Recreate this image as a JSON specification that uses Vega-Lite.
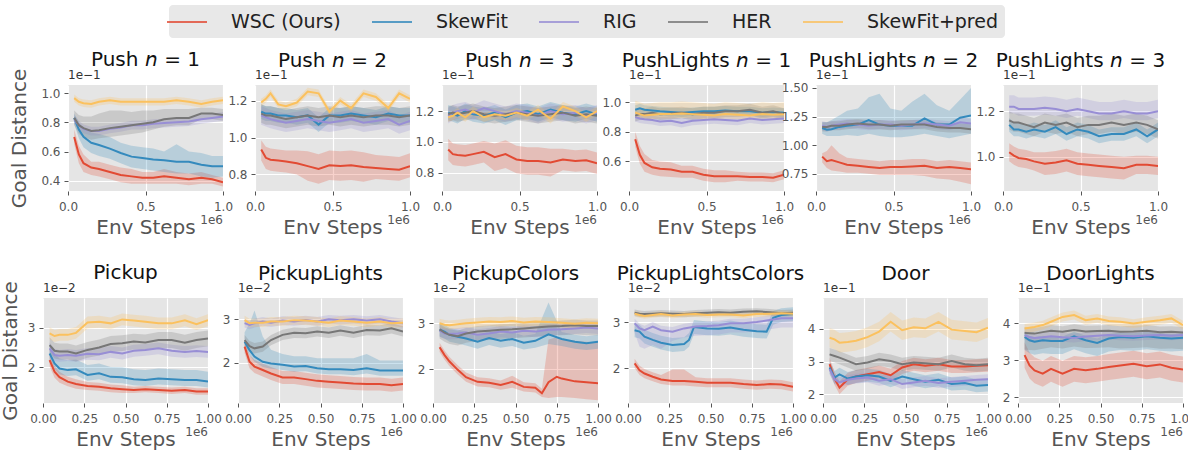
{
"$schema": "https://vega.github.io/schema/vega-lite/v6.json",
"padding": {"left": 0, "top": 5, "right": 5, "bottom": 5},
"background": "white",
"spacing": 25,
"config": {
 "font": "DejaVu Sans",
 "view": {"fill": "#E5E5E5", "stroke": null},
 "range": {"category": ["#E24A33", "#348ABD", "#988ED5", "#777777", "#FBC15E"]},
 "axis": {"domain": false, "grid": true, "gridColor": "#FFFFFF", "gridWidth": 1.2, "tickColor": "#555555", "tickSize": 4, "labelColor": "#555555", "labelFontSize": 12, "labelPadding": 4, "labelFlush": false, "labelOverlap": false, "titleColor": "#555555", "titleFontSize": 20, "titleFontWeight": "normal"},
 "axisX": {"titlePadding": 5, "labelPadding": 6},
 "title": {"fontSize": 20, "fontWeight": "normal", "color": "#111111", "anchor": "middle", "offset": -2}
},
"datasets": {
"p1": [
{"s":"A","x":0.04,"y":0.7,"l":0.65,"h":0.75},{"s":"A","x":0.07,"y":0.58,"l":0.52,"h":0.64},{"s":"A","x":0.1,"y":0.52,"l":0.46,"h":0.58},{"s":"A","x":0.15,"y":0.49,"l":0.44,"h":0.53},{"s":"A","x":0.2,"y":0.48,"l":0.43,"h":0.53},{"s":"A","x":0.27,"y":0.46,"l":0.41,"h":0.51},{"s":"A","x":0.34,"y":0.44,"l":0.39,"h":0.49},{"s":"A","x":0.41,"y":0.43,"l":0.38,"h":0.48},{"s":"A","x":0.48,"y":0.42,"l":0.38,"h":0.46},{"s":"A","x":0.55,"y":0.42,"l":0.38,"h":0.46},{"s":"A","x":0.62,"y":0.43,"l":0.38,"h":0.48},{"s":"A","x":0.7,"y":0.42,"l":0.38,"h":0.46},{"s":"A","x":0.78,"y":0.41,"l":0.37,"h":0.45},{"s":"A","x":0.86,"y":0.42,"l":0.38,"h":0.46},{"s":"A","x":0.93,"y":0.41,"l":0.38,"h":0.44},{"s":"A","x":1,"y":0.39,"l":0.36,"h":0.42},
{"s":"B","x":0.04,"y":0.83,"l":0.79,"h":0.86},{"s":"B","x":0.07,"y":0.75,"l":0.69,"h":0.8},{"s":"B","x":0.1,"y":0.7,"l":0.63,"h":0.76},{"s":"B","x":0.15,"y":0.66,"l":0.59,"h":0.73},{"s":"B","x":0.2,"y":0.645,"l":0.57,"h":0.72},{"s":"B","x":0.27,"y":0.62,"l":0.55,"h":0.7},{"s":"B","x":0.34,"y":0.59,"l":0.52,"h":0.66},{"s":"B","x":0.41,"y":0.565,"l":0.49,"h":0.64},{"s":"B","x":0.48,"y":0.555,"l":0.48,"h":0.63},{"s":"B","x":0.55,"y":0.545,"l":0.47,"h":0.62},{"s":"B","x":0.62,"y":0.54,"l":0.46,"h":0.6},{"s":"B","x":0.7,"y":0.53,"l":0.45,"h":0.65},{"s":"B","x":0.78,"y":0.53,"l":0.45,"h":0.6},{"s":"B","x":0.86,"y":0.51,"l":0.43,"h":0.59},{"s":"B","x":0.93,"y":0.5,"l":0.42,"h":0.57},{"s":"B","x":1,"y":0.5,"l":0.43,"h":0.57},
{"s":"C","x":0.04,"y":0.82,"l":0.79,"h":0.85},{"s":"C","x":0.07,"y":0.78,"l":0.75,"h":0.81},{"s":"C","x":0.1,"y":0.755,"l":0.725,"h":0.785},{"s":"C","x":0.15,"y":0.74,"l":0.71,"h":0.77},{"s":"C","x":0.2,"y":0.74,"l":0.71,"h":0.77},{"s":"C","x":0.27,"y":0.755,"l":0.725,"h":0.785},{"s":"C","x":0.34,"y":0.765,"l":0.735,"h":0.795},{"s":"C","x":0.41,"y":0.78,"l":0.75,"h":0.81},{"s":"C","x":0.48,"y":0.78,"l":0.75,"h":0.81},{"s":"C","x":0.55,"y":0.79,"l":0.76,"h":0.82},{"s":"C","x":0.62,"y":0.795,"l":0.765,"h":0.825},{"s":"C","x":0.7,"y":0.8,"l":0.77,"h":0.83},{"s":"C","x":0.78,"y":0.805,"l":0.775,"h":0.835},{"s":"C","x":0.86,"y":0.82,"l":0.79,"h":0.85},{"s":"C","x":0.93,"y":0.83,"l":0.8,"h":0.86},{"s":"C","x":1,"y":0.84,"l":0.81,"h":0.87},
{"s":"D","x":0.04,"y":0.83,"l":0.78,"h":0.88},{"s":"D","x":0.07,"y":0.78,"l":0.72,"h":0.85},{"s":"D","x":0.1,"y":0.76,"l":0.7,"h":0.84},{"s":"D","x":0.15,"y":0.74,"l":0.68,"h":0.84},{"s":"D","x":0.2,"y":0.745,"l":0.69,"h":0.86},{"s":"D","x":0.27,"y":0.76,"l":0.7,"h":0.88},{"s":"D","x":0.34,"y":0.77,"l":0.71,"h":0.88},{"s":"D","x":0.41,"y":0.78,"l":0.72,"h":0.87},{"s":"D","x":0.48,"y":0.79,"l":0.73,"h":0.88},{"s":"D","x":0.55,"y":0.8,"l":0.75,"h":0.88},{"s":"D","x":0.62,"y":0.82,"l":0.77,"h":0.89},{"s":"D","x":0.7,"y":0.83,"l":0.78,"h":0.89},{"s":"D","x":0.78,"y":0.83,"l":0.78,"h":0.89},{"s":"D","x":0.86,"y":0.86,"l":0.82,"h":0.9},{"s":"D","x":0.93,"y":0.86,"l":0.82,"h":0.9},{"s":"D","x":1,"y":0.85,"l":0.81,"h":0.89},
{"s":"E","x":0.04,"y":0.965,"l":0.94,"h":0.99},{"s":"E","x":0.07,"y":0.94,"l":0.915,"h":0.965},{"s":"E","x":0.1,"y":0.93,"l":0.905,"h":0.955},{"s":"E","x":0.15,"y":0.925,"l":0.9,"h":0.95},{"s":"E","x":0.2,"y":0.94,"l":0.915,"h":0.965},{"s":"E","x":0.27,"y":0.95,"l":0.925,"h":0.975},{"s":"E","x":0.34,"y":0.94,"l":0.915,"h":0.965},{"s":"E","x":0.41,"y":0.94,"l":0.915,"h":0.965},{"s":"E","x":0.48,"y":0.94,"l":0.915,"h":0.965},{"s":"E","x":0.55,"y":0.94,"l":0.915,"h":0.965},{"s":"E","x":0.62,"y":0.94,"l":0.915,"h":0.965},{"s":"E","x":0.7,"y":0.95,"l":0.925,"h":0.975},{"s":"E","x":0.78,"y":0.94,"l":0.915,"h":0.965},{"s":"E","x":0.86,"y":0.925,"l":0.9,"h":0.95},{"s":"E","x":0.93,"y":0.94,"l":0.915,"h":0.965},{"s":"E","x":1,"y":0.95,"l":0.925,"h":0.975}
],
"p2": [
{"s":"A","x":0.04,"y":0.935,"l":0.875,"h":0.985},{"s":"A","x":0.07,"y":0.89,"l":0.83,"h":0.95},{"s":"A","x":0.1,"y":0.88,"l":0.82,"h":0.94},{"s":"A","x":0.15,"y":0.875,"l":0.815,"h":0.935},{"s":"A","x":0.2,"y":0.87,"l":0.81,"h":0.93},{"s":"A","x":0.27,"y":0.86,"l":0.8,"h":0.93},{"s":"A","x":0.34,"y":0.845,"l":0.765,"h":0.925},{"s":"A","x":0.41,"y":0.83,"l":0.75,"h":0.91},{"s":"A","x":0.48,"y":0.85,"l":0.77,"h":0.93},{"s":"A","x":0.55,"y":0.845,"l":0.765,"h":0.925},{"s":"A","x":0.62,"y":0.85,"l":0.77,"h":0.93},{"s":"A","x":0.7,"y":0.84,"l":0.76,"h":0.92},{"s":"A","x":0.78,"y":0.835,"l":0.775,"h":0.905},{"s":"A","x":0.86,"y":0.83,"l":0.77,"h":0.9},{"s":"A","x":0.93,"y":0.825,"l":0.765,"h":0.895},{"s":"A","x":1,"y":0.845,"l":0.785,"h":0.915},
{"s":"B","x":0.04,"y":1.14,"l":1.1,"h":1.18},{"s":"B","x":0.07,"y":1.13,"l":1.09,"h":1.17},{"s":"B","x":0.1,"y":1.13,"l":1.09,"h":1.17},{"s":"B","x":0.15,"y":1.12,"l":1.08,"h":1.16},{"s":"B","x":0.2,"y":1.12,"l":1.08,"h":1.16},{"s":"B","x":0.27,"y":1.11,"l":1.07,"h":1.15},{"s":"B","x":0.34,"y":1.12,"l":1.08,"h":1.16},{"s":"B","x":0.41,"y":1.07,"l":1.03,"h":1.11},{"s":"B","x":0.48,"y":1.12,"l":1.08,"h":1.16},{"s":"B","x":0.55,"y":1.12,"l":1.08,"h":1.16},{"s":"B","x":0.62,"y":1.13,"l":1.09,"h":1.17},{"s":"B","x":0.7,"y":1.12,"l":1.08,"h":1.16},{"s":"B","x":0.78,"y":1.11,"l":1.07,"h":1.15},{"s":"B","x":0.86,"y":1.13,"l":1.09,"h":1.17},{"s":"B","x":0.93,"y":1.12,"l":1.08,"h":1.16},{"s":"B","x":1,"y":1.12,"l":1.08,"h":1.16},
{"s":"C","x":0.04,"y":1.12,"l":1.07,"h":1.17},{"s":"C","x":0.07,"y":1.11,"l":1.06,"h":1.16},{"s":"C","x":0.1,"y":1.1,"l":1.05,"h":1.15},{"s":"C","x":0.15,"y":1.09,"l":1.04,"h":1.14},{"s":"C","x":0.2,"y":1.08,"l":1.03,"h":1.13},{"s":"C","x":0.27,"y":1.09,"l":1.04,"h":1.14},{"s":"C","x":0.34,"y":1.1,"l":1.05,"h":1.15},{"s":"C","x":0.41,"y":1.09,"l":1.04,"h":1.14},{"s":"C","x":0.48,"y":1.08,"l":1.03,"h":1.13},{"s":"C","x":0.55,"y":1.09,"l":1.04,"h":1.14},{"s":"C","x":0.62,"y":1.1,"l":1.05,"h":1.15},{"s":"C","x":0.7,"y":1.08,"l":1.03,"h":1.13},{"s":"C","x":0.78,"y":1.09,"l":1.04,"h":1.14},{"s":"C","x":0.86,"y":1.1,"l":1.05,"h":1.15},{"s":"C","x":0.93,"y":1.07,"l":1.02,"h":1.12},{"s":"C","x":1,"y":1.09,"l":1.04,"h":1.14},
{"s":"D","x":0.04,"y":1.13,"l":1.08,"h":1.18},{"s":"D","x":0.07,"y":1.12,"l":1.07,"h":1.17},{"s":"D","x":0.1,"y":1.12,"l":1.07,"h":1.17},{"s":"D","x":0.15,"y":1.11,"l":1.06,"h":1.16},{"s":"D","x":0.2,"y":1.1,"l":1.05,"h":1.15},{"s":"D","x":0.27,"y":1.11,"l":1.06,"h":1.16},{"s":"D","x":0.34,"y":1.12,"l":1.07,"h":1.17},{"s":"D","x":0.41,"y":1.11,"l":1.06,"h":1.16},{"s":"D","x":0.48,"y":1.12,"l":1.07,"h":1.17},{"s":"D","x":0.55,"y":1.11,"l":1.06,"h":1.16},{"s":"D","x":0.62,"y":1.12,"l":1.07,"h":1.17},{"s":"D","x":0.7,"y":1.11,"l":1.06,"h":1.16},{"s":"D","x":0.78,"y":1.12,"l":1.07,"h":1.17},{"s":"D","x":0.86,"y":1.12,"l":1.07,"h":1.17},{"s":"D","x":0.93,"y":1.11,"l":1.06,"h":1.16},{"s":"D","x":1,"y":1.12,"l":1.07,"h":1.17},
{"s":"E","x":0.04,"y":1.19,"l":1.17,"h":1.21},{"s":"E","x":0.07,"y":1.21,"l":1.19,"h":1.23},{"s":"E","x":0.1,"y":1.24,"l":1.22,"h":1.26},{"s":"E","x":0.15,"y":1.18,"l":1.16,"h":1.2},{"s":"E","x":0.2,"y":1.17,"l":1.15,"h":1.19},{"s":"E","x":0.27,"y":1.19,"l":1.17,"h":1.21},{"s":"E","x":0.34,"y":1.25,"l":1.23,"h":1.27},{"s":"E","x":0.41,"y":1.24,"l":1.22,"h":1.26},{"s":"E","x":0.48,"y":1.14,"l":1.12,"h":1.16},{"s":"E","x":0.55,"y":1.2,"l":1.18,"h":1.22},{"s":"E","x":0.62,"y":1.16,"l":1.14,"h":1.18},{"s":"E","x":0.7,"y":1.24,"l":1.22,"h":1.26},{"s":"E","x":0.78,"y":1.22,"l":1.2,"h":1.24},{"s":"E","x":0.86,"y":1.16,"l":1.14,"h":1.18},{"s":"E","x":0.93,"y":1.24,"l":1.22,"h":1.26},{"s":"E","x":1,"y":1.21,"l":1.19,"h":1.23}
],
"p3": [
{"s":"A","x":0.04,"y":0.95,"l":0.88,"h":1.02},{"s":"A","x":0.07,"y":0.92,"l":0.85,"h":0.99},{"s":"A","x":0.1,"y":0.915,"l":0.845,"h":0.985},{"s":"A","x":0.15,"y":0.91,"l":0.84,"h":0.98},{"s":"A","x":0.2,"y":0.92,"l":0.85,"h":0.99},{"s":"A","x":0.27,"y":0.935,"l":0.865,"h":1.005},{"s":"A","x":0.34,"y":0.9,"l":0.81,"h":0.99},{"s":"A","x":0.41,"y":0.92,"l":0.83,"h":1.01},{"s":"A","x":0.48,"y":0.885,"l":0.795,"h":0.975},{"s":"A","x":0.55,"y":0.875,"l":0.785,"h":0.965},{"s":"A","x":0.62,"y":0.875,"l":0.785,"h":0.965},{"s":"A","x":0.7,"y":0.865,"l":0.775,"h":0.955},{"s":"A","x":0.78,"y":0.885,"l":0.815,"h":0.955},{"s":"A","x":0.86,"y":0.875,"l":0.805,"h":0.945},{"s":"A","x":0.93,"y":0.88,"l":0.81,"h":0.95},{"s":"A","x":1,"y":0.86,"l":0.79,"h":0.93},
{"s":"B","x":0.04,"y":1.19,"l":1.14,"h":1.24},{"s":"B","x":0.07,"y":1.18,"l":1.13,"h":1.23},{"s":"B","x":0.1,"y":1.17,"l":1.12,"h":1.22},{"s":"B","x":0.15,"y":1.2,"l":1.15,"h":1.25},{"s":"B","x":0.2,"y":1.18,"l":1.13,"h":1.23},{"s":"B","x":0.27,"y":1.17,"l":1.12,"h":1.22},{"s":"B","x":0.34,"y":1.19,"l":1.14,"h":1.24},{"s":"B","x":0.41,"y":1.16,"l":1.11,"h":1.21},{"s":"B","x":0.48,"y":1.19,"l":1.14,"h":1.24},{"s":"B","x":0.55,"y":1.2,"l":1.15,"h":1.25},{"s":"B","x":0.62,"y":1.18,"l":1.13,"h":1.23},{"s":"B","x":0.7,"y":1.21,"l":1.16,"h":1.26},{"s":"B","x":0.78,"y":1.19,"l":1.14,"h":1.24},{"s":"B","x":0.86,"y":1.18,"l":1.13,"h":1.23},{"s":"B","x":0.93,"y":1.2,"l":1.15,"h":1.25},{"s":"B","x":1,"y":1.18,"l":1.13,"h":1.23},
{"s":"C","x":0.04,"y":1.17,"l":1.12,"h":1.22},{"s":"C","x":0.07,"y":1.19,"l":1.14,"h":1.24},{"s":"C","x":0.1,"y":1.2,"l":1.15,"h":1.25},{"s":"C","x":0.15,"y":1.21,"l":1.16,"h":1.26},{"s":"C","x":0.2,"y":1.19,"l":1.14,"h":1.24},{"s":"C","x":0.27,"y":1.22,"l":1.17,"h":1.27},{"s":"C","x":0.34,"y":1.2,"l":1.15,"h":1.25},{"s":"C","x":0.41,"y":1.18,"l":1.13,"h":1.23},{"s":"C","x":0.48,"y":1.2,"l":1.15,"h":1.25},{"s":"C","x":0.55,"y":1.19,"l":1.14,"h":1.24},{"s":"C","x":0.62,"y":1.17,"l":1.12,"h":1.22},{"s":"C","x":0.7,"y":1.2,"l":1.15,"h":1.25},{"s":"C","x":0.78,"y":1.18,"l":1.13,"h":1.23},{"s":"C","x":0.86,"y":1.19,"l":1.14,"h":1.24},{"s":"C","x":0.93,"y":1.17,"l":1.12,"h":1.22},{"s":"C","x":1,"y":1.19,"l":1.14,"h":1.24},
{"s":"D","x":0.04,"y":1.18,"l":1.13,"h":1.23},{"s":"D","x":0.07,"y":1.19,"l":1.14,"h":1.24},{"s":"D","x":0.1,"y":1.18,"l":1.13,"h":1.23},{"s":"D","x":0.15,"y":1.19,"l":1.14,"h":1.24},{"s":"D","x":0.2,"y":1.2,"l":1.15,"h":1.25},{"s":"D","x":0.27,"y":1.18,"l":1.13,"h":1.23},{"s":"D","x":0.34,"y":1.17,"l":1.12,"h":1.22},{"s":"D","x":0.41,"y":1.18,"l":1.13,"h":1.23},{"s":"D","x":0.48,"y":1.19,"l":1.14,"h":1.24},{"s":"D","x":0.55,"y":1.18,"l":1.13,"h":1.23},{"s":"D","x":0.62,"y":1.17,"l":1.12,"h":1.22},{"s":"D","x":0.7,"y":1.18,"l":1.13,"h":1.23},{"s":"D","x":0.78,"y":1.19,"l":1.14,"h":1.24},{"s":"D","x":0.86,"y":1.17,"l":1.12,"h":1.22},{"s":"D","x":0.93,"y":1.18,"l":1.13,"h":1.23},{"s":"D","x":1,"y":1.17,"l":1.12,"h":1.22},
{"s":"E","x":0.04,"y":1.16,"l":1.13,"h":1.19},{"s":"E","x":0.07,"y":1.17,"l":1.14,"h":1.2},{"s":"E","x":0.1,"y":1.19,"l":1.16,"h":1.22},{"s":"E","x":0.15,"y":1.16,"l":1.13,"h":1.19},{"s":"E","x":0.2,"y":1.2,"l":1.17,"h":1.23},{"s":"E","x":0.27,"y":1.16,"l":1.13,"h":1.19},{"s":"E","x":0.34,"y":1.18,"l":1.15,"h":1.21},{"s":"E","x":0.41,"y":1.17,"l":1.14,"h":1.2},{"s":"E","x":0.48,"y":1.19,"l":1.16,"h":1.22},{"s":"E","x":0.55,"y":1.17,"l":1.14,"h":1.2},{"s":"E","x":0.62,"y":1.21,"l":1.18,"h":1.24},{"s":"E","x":0.7,"y":1.15,"l":1.12,"h":1.18},{"s":"E","x":0.78,"y":1.23,"l":1.2,"h":1.26},{"s":"E","x":0.86,"y":1.2,"l":1.17,"h":1.23},{"s":"E","x":0.93,"y":1.16,"l":1.13,"h":1.19},{"s":"E","x":1,"y":1.2,"l":1.17,"h":1.23}
],
"p4": [
{"s":"A","x":0.04,"y":0.75,"l":0.7,"h":0.8},{"s":"A","x":0.07,"y":0.645,"l":0.585,"h":0.705},{"s":"A","x":0.1,"y":0.59,"l":0.53,"h":0.65},{"s":"A","x":0.15,"y":0.56,"l":0.51,"h":0.61},{"s":"A","x":0.2,"y":0.55,"l":0.5,"h":0.6},{"s":"A","x":0.27,"y":0.545,"l":0.495,"h":0.595},{"s":"A","x":0.34,"y":0.53,"l":0.49,"h":0.57},{"s":"A","x":0.41,"y":0.53,"l":0.49,"h":0.57},{"s":"A","x":0.48,"y":0.51,"l":0.47,"h":0.55},{"s":"A","x":0.55,"y":0.5,"l":0.46,"h":0.54},{"s":"A","x":0.62,"y":0.5,"l":0.46,"h":0.54},{"s":"A","x":0.7,"y":0.5,"l":0.47,"h":0.53},{"s":"A","x":0.78,"y":0.495,"l":0.465,"h":0.525},{"s":"A","x":0.86,"y":0.495,"l":0.465,"h":0.525},{"s":"A","x":0.93,"y":0.49,"l":0.46,"h":0.52},{"s":"A","x":1,"y":0.51,"l":0.48,"h":0.54},
{"s":"B","x":0.04,"y":0.95,"l":0.92,"h":0.98},{"s":"B","x":0.07,"y":0.96,"l":0.93,"h":0.99},{"s":"B","x":0.1,"y":0.95,"l":0.92,"h":0.98},{"s":"B","x":0.15,"y":0.945,"l":0.915,"h":0.975},{"s":"B","x":0.2,"y":0.94,"l":0.91,"h":0.97},{"s":"B","x":0.27,"y":0.935,"l":0.905,"h":0.965},{"s":"B","x":0.34,"y":0.93,"l":0.9,"h":0.96},{"s":"B","x":0.41,"y":0.935,"l":0.905,"h":0.965},{"s":"B","x":0.48,"y":0.94,"l":0.91,"h":0.97},{"s":"B","x":0.55,"y":0.94,"l":0.91,"h":0.97},{"s":"B","x":0.62,"y":0.945,"l":0.915,"h":0.975},{"s":"B","x":0.7,"y":0.94,"l":0.91,"h":0.97},{"s":"B","x":0.78,"y":0.94,"l":0.91,"h":0.97},{"s":"B","x":0.86,"y":0.93,"l":0.9,"h":0.96},{"s":"B","x":0.93,"y":0.935,"l":0.905,"h":0.965},{"s":"B","x":1,"y":0.93,"l":0.9,"h":0.96},
{"s":"C","x":0.04,"y":0.9,"l":0.87,"h":0.93},{"s":"C","x":0.07,"y":0.89,"l":0.86,"h":0.92},{"s":"C","x":0.1,"y":0.885,"l":0.855,"h":0.915},{"s":"C","x":0.15,"y":0.88,"l":0.85,"h":0.91},{"s":"C","x":0.2,"y":0.87,"l":0.84,"h":0.9},{"s":"C","x":0.27,"y":0.875,"l":0.845,"h":0.905},{"s":"C","x":0.34,"y":0.86,"l":0.83,"h":0.89},{"s":"C","x":0.41,"y":0.875,"l":0.845,"h":0.905},{"s":"C","x":0.48,"y":0.88,"l":0.85,"h":0.91},{"s":"C","x":0.55,"y":0.885,"l":0.855,"h":0.915},{"s":"C","x":0.62,"y":0.88,"l":0.85,"h":0.91},{"s":"C","x":0.7,"y":0.875,"l":0.845,"h":0.905},{"s":"C","x":0.78,"y":0.89,"l":0.86,"h":0.92},{"s":"C","x":0.86,"y":0.88,"l":0.85,"h":0.91},{"s":"C","x":0.93,"y":0.885,"l":0.855,"h":0.915},{"s":"C","x":1,"y":0.89,"l":0.86,"h":0.92},
{"s":"D","x":0.04,"y":0.91,"l":0.87,"h":0.95},{"s":"D","x":0.07,"y":0.92,"l":0.88,"h":0.96},{"s":"D","x":0.1,"y":0.92,"l":0.88,"h":0.96},{"s":"D","x":0.15,"y":0.93,"l":0.89,"h":0.97},{"s":"D","x":0.2,"y":0.92,"l":0.88,"h":0.96},{"s":"D","x":0.27,"y":0.925,"l":0.885,"h":0.965},{"s":"D","x":0.34,"y":0.93,"l":0.89,"h":0.97},{"s":"D","x":0.41,"y":0.92,"l":0.88,"h":0.96},{"s":"D","x":0.48,"y":0.93,"l":0.89,"h":0.97},{"s":"D","x":0.55,"y":0.93,"l":0.89,"h":0.97},{"s":"D","x":0.62,"y":0.94,"l":0.9,"h":0.98},{"s":"D","x":0.7,"y":0.94,"l":0.9,"h":0.98},{"s":"D","x":0.78,"y":0.95,"l":0.91,"h":0.99},{"s":"D","x":0.86,"y":0.93,"l":0.89,"h":0.97},{"s":"D","x":0.93,"y":0.94,"l":0.9,"h":0.98},{"s":"D","x":1,"y":0.92,"l":0.88,"h":0.96},
{"s":"E","x":0.04,"y":0.93,"l":0.9,"h":1.01},{"s":"E","x":0.07,"y":0.92,"l":0.89,"h":1.0},{"s":"E","x":0.1,"y":0.91,"l":0.88,"h":0.99},{"s":"E","x":0.15,"y":0.915,"l":0.885,"h":0.995},{"s":"E","x":0.2,"y":0.92,"l":0.89,"h":1.0},{"s":"E","x":0.27,"y":0.92,"l":0.89,"h":1.0},{"s":"E","x":0.34,"y":0.925,"l":0.895,"h":1.005},{"s":"E","x":0.41,"y":0.92,"l":0.89,"h":1.0},{"s":"E","x":0.48,"y":0.915,"l":0.885,"h":0.995},{"s":"E","x":0.55,"y":0.91,"l":0.88,"h":0.99},{"s":"E","x":0.62,"y":0.92,"l":0.89,"h":1.0},{"s":"E","x":0.7,"y":0.915,"l":0.885,"h":0.995},{"s":"E","x":0.78,"y":0.91,"l":0.88,"h":0.99},{"s":"E","x":0.86,"y":0.92,"l":0.89,"h":1.0},{"s":"E","x":0.93,"y":0.915,"l":0.885,"h":0.995},{"s":"E","x":1,"y":0.92,"l":0.89,"h":1.0}
],
"p5": [
{"s":"A","x":0.04,"y":0.9,"l":0.85,"h":0.93},{"s":"A","x":0.07,"y":0.86,"l":0.8,"h":0.95},{"s":"A","x":0.1,"y":0.87,"l":0.78,"h":1.0},{"s":"A","x":0.15,"y":0.85,"l":0.77,"h":0.93},{"s":"A","x":0.2,"y":0.83,"l":0.76,"h":0.89},{"s":"A","x":0.27,"y":0.82,"l":0.76,"h":0.88},{"s":"A","x":0.34,"y":0.81,"l":0.75,"h":0.87},{"s":"A","x":0.41,"y":0.8,"l":0.74,"h":0.86},{"s":"A","x":0.48,"y":0.81,"l":0.74,"h":0.87},{"s":"A","x":0.55,"y":0.81,"l":0.74,"h":0.87},{"s":"A","x":0.62,"y":0.815,"l":0.74,"h":0.88},{"s":"A","x":0.7,"y":0.82,"l":0.73,"h":0.88},{"s":"A","x":0.78,"y":0.8,"l":0.71,"h":0.86},{"s":"A","x":0.86,"y":0.81,"l":0.7,"h":0.87},{"s":"A","x":0.93,"y":0.8,"l":0.68,"h":0.86},{"s":"A","x":1,"y":0.79,"l":0.66,"h":0.85},
{"s":"B","x":0.04,"y":1.15,"l":1.1,"h":1.2},{"s":"B","x":0.07,"y":1.135,"l":1.08,"h":1.2},{"s":"B","x":0.1,"y":1.14,"l":1.08,"h":1.22},{"s":"B","x":0.15,"y":1.16,"l":1.08,"h":1.26},{"s":"B","x":0.2,"y":1.17,"l":1.09,"h":1.3},{"s":"B","x":0.27,"y":1.18,"l":1.08,"h":1.32},{"s":"B","x":0.34,"y":1.22,"l":1.1,"h":1.42},{"s":"B","x":0.41,"y":1.18,"l":1.08,"h":1.45},{"s":"B","x":0.48,"y":1.17,"l":1.07,"h":1.32},{"s":"B","x":0.55,"y":1.17,"l":1.07,"h":1.3},{"s":"B","x":0.62,"y":1.17,"l":1.08,"h":1.38},{"s":"B","x":0.7,"y":1.235,"l":1.1,"h":1.45},{"s":"B","x":0.78,"y":1.18,"l":1.08,"h":1.35},{"s":"B","x":0.86,"y":1.18,"l":1.06,"h":1.3},{"s":"B","x":0.93,"y":1.24,"l":1.08,"h":1.4},{"s":"B","x":1,"y":1.26,"l":1.1,"h":1.5},
{"s":"C","x":0.04,"y":1.17,"l":1.13,"h":1.21},{"s":"C","x":0.07,"y":1.16,"l":1.12,"h":1.2},{"s":"C","x":0.1,"y":1.17,"l":1.13,"h":1.21},{"s":"C","x":0.15,"y":1.18,"l":1.14,"h":1.22},{"s":"C","x":0.2,"y":1.19,"l":1.15,"h":1.23},{"s":"C","x":0.27,"y":1.18,"l":1.14,"h":1.22},{"s":"C","x":0.34,"y":1.17,"l":1.13,"h":1.21},{"s":"C","x":0.41,"y":1.18,"l":1.14,"h":1.22},{"s":"C","x":0.48,"y":1.18,"l":1.14,"h":1.22},{"s":"C","x":0.55,"y":1.17,"l":1.13,"h":1.21},{"s":"C","x":0.62,"y":1.18,"l":1.14,"h":1.22},{"s":"C","x":0.7,"y":1.19,"l":1.15,"h":1.23},{"s":"C","x":0.78,"y":1.18,"l":1.14,"h":1.22},{"s":"C","x":0.86,"y":1.17,"l":1.13,"h":1.21},{"s":"C","x":0.93,"y":1.2,"l":1.16,"h":1.24},{"s":"C","x":1,"y":1.19,"l":1.15,"h":1.23},
{"s":"D","x":0.04,"y":1.16,"l":1.12,"h":1.2},{"s":"D","x":0.07,"y":1.16,"l":1.12,"h":1.2},{"s":"D","x":0.1,"y":1.17,"l":1.13,"h":1.21},{"s":"D","x":0.15,"y":1.17,"l":1.13,"h":1.21},{"s":"D","x":0.2,"y":1.18,"l":1.14,"h":1.22},{"s":"D","x":0.27,"y":1.19,"l":1.15,"h":1.23},{"s":"D","x":0.34,"y":1.18,"l":1.14,"h":1.22},{"s":"D","x":0.41,"y":1.18,"l":1.14,"h":1.22},{"s":"D","x":0.48,"y":1.17,"l":1.13,"h":1.21},{"s":"D","x":0.55,"y":1.18,"l":1.14,"h":1.22},{"s":"D","x":0.62,"y":1.18,"l":1.14,"h":1.22},{"s":"D","x":0.7,"y":1.18,"l":1.14,"h":1.22},{"s":"D","x":0.78,"y":1.16,"l":1.12,"h":1.2},{"s":"D","x":0.86,"y":1.15,"l":1.11,"h":1.19},{"s":"D","x":0.93,"y":1.15,"l":1.11,"h":1.19},{"s":"D","x":1,"y":1.14,"l":1.1,"h":1.18}
],
"p6": [
{"s":"A","x":0.04,"y":1.02,"l":0.98,"h":1.06},{"s":"A","x":0.07,"y":1.005,"l":0.965,"h":1.045},{"s":"A","x":0.1,"y":0.995,"l":0.955,"h":1.035},{"s":"A","x":0.15,"y":0.99,"l":0.95,"h":1.03},{"s":"A","x":0.2,"y":0.98,"l":0.94,"h":1.02},{"s":"A","x":0.27,"y":0.97,"l":0.92,"h":1.02},{"s":"A","x":0.34,"y":0.975,"l":0.925,"h":1.025},{"s":"A","x":0.41,"y":0.985,"l":0.935,"h":1.035},{"s":"A","x":0.48,"y":0.97,"l":0.92,"h":1.02},{"s":"A","x":0.55,"y":0.965,"l":0.915,"h":1.015},{"s":"A","x":0.62,"y":0.96,"l":0.91,"h":1.01},{"s":"A","x":0.7,"y":0.955,"l":0.905,"h":1.005},{"s":"A","x":0.78,"y":0.95,"l":0.9,"h":1.0},{"s":"A","x":0.86,"y":0.965,"l":0.925,"h":1.005},{"s":"A","x":0.93,"y":0.965,"l":0.925,"h":1.005},{"s":"A","x":1,"y":0.96,"l":0.92,"h":1.0},
{"s":"B","x":0.04,"y":1.14,"l":1.11,"h":1.17},{"s":"B","x":0.07,"y":1.12,"l":1.09,"h":1.15},{"s":"B","x":0.1,"y":1.12,"l":1.09,"h":1.15},{"s":"B","x":0.15,"y":1.11,"l":1.08,"h":1.14},{"s":"B","x":0.2,"y":1.12,"l":1.09,"h":1.15},{"s":"B","x":0.27,"y":1.11,"l":1.08,"h":1.14},{"s":"B","x":0.34,"y":1.13,"l":1.1,"h":1.16},{"s":"B","x":0.41,"y":1.1,"l":1.07,"h":1.13},{"s":"B","x":0.48,"y":1.12,"l":1.09,"h":1.15},{"s":"B","x":0.55,"y":1.11,"l":1.08,"h":1.14},{"s":"B","x":0.62,"y":1.09,"l":1.06,"h":1.12},{"s":"B","x":0.7,"y":1.1,"l":1.07,"h":1.13},{"s":"B","x":0.78,"y":1.1,"l":1.07,"h":1.13},{"s":"B","x":0.86,"y":1.12,"l":1.09,"h":1.15},{"s":"B","x":0.93,"y":1.09,"l":1.06,"h":1.12},{"s":"B","x":1,"y":1.12,"l":1.09,"h":1.15},
{"s":"C","x":0.04,"y":1.22,"l":1.19,"h":1.27},{"s":"C","x":0.07,"y":1.22,"l":1.19,"h":1.27},{"s":"C","x":0.1,"y":1.21,"l":1.18,"h":1.26},{"s":"C","x":0.15,"y":1.21,"l":1.18,"h":1.26},{"s":"C","x":0.2,"y":1.21,"l":1.18,"h":1.26},{"s":"C","x":0.27,"y":1.215,"l":1.185,"h":1.265},{"s":"C","x":0.34,"y":1.21,"l":1.18,"h":1.26},{"s":"C","x":0.41,"y":1.2,"l":1.17,"h":1.25},{"s":"C","x":0.48,"y":1.21,"l":1.18,"h":1.26},{"s":"C","x":0.55,"y":1.2,"l":1.17,"h":1.25},{"s":"C","x":0.62,"y":1.19,"l":1.16,"h":1.24},{"s":"C","x":0.7,"y":1.19,"l":1.16,"h":1.24},{"s":"C","x":0.78,"y":1.2,"l":1.17,"h":1.25},{"s":"C","x":0.86,"y":1.19,"l":1.16,"h":1.24},{"s":"C","x":0.93,"y":1.19,"l":1.16,"h":1.24},{"s":"C","x":1,"y":1.2,"l":1.17,"h":1.25},
{"s":"D","x":0.04,"y":1.16,"l":1.12,"h":1.2},{"s":"D","x":0.07,"y":1.15,"l":1.11,"h":1.19},{"s":"D","x":0.1,"y":1.15,"l":1.11,"h":1.19},{"s":"D","x":0.15,"y":1.14,"l":1.1,"h":1.18},{"s":"D","x":0.2,"y":1.13,"l":1.09,"h":1.17},{"s":"D","x":0.27,"y":1.15,"l":1.11,"h":1.19},{"s":"D","x":0.34,"y":1.14,"l":1.1,"h":1.18},{"s":"D","x":0.41,"y":1.15,"l":1.11,"h":1.19},{"s":"D","x":0.48,"y":1.13,"l":1.09,"h":1.17},{"s":"D","x":0.55,"y":1.14,"l":1.1,"h":1.18},{"s":"D","x":0.62,"y":1.14,"l":1.1,"h":1.18},{"s":"D","x":0.7,"y":1.15,"l":1.11,"h":1.19},{"s":"D","x":0.78,"y":1.14,"l":1.1,"h":1.18},{"s":"D","x":0.86,"y":1.15,"l":1.11,"h":1.19},{"s":"D","x":0.93,"y":1.14,"l":1.1,"h":1.18},{"s":"D","x":1,"y":1.12,"l":1.08,"h":1.16}
],
"p7": [
{"s":"A","x":0.04,"y":2.18,"l":2.03,"h":2.33},{"s":"A","x":0.07,"y":1.89,"l":1.74,"h":2.04},{"s":"A","x":0.1,"y":1.75,"l":1.61,"h":1.89},{"s":"A","x":0.15,"y":1.64,"l":1.52,"h":1.76},{"s":"A","x":0.2,"y":1.58,"l":1.46,"h":1.7},{"s":"A","x":0.27,"y":1.53,"l":1.43,"h":1.63},{"s":"A","x":0.34,"y":1.51,"l":1.41,"h":1.61},{"s":"A","x":0.41,"y":1.47,"l":1.37,"h":1.57},{"s":"A","x":0.48,"y":1.45,"l":1.35,"h":1.55},{"s":"A","x":0.55,"y":1.43,"l":1.35,"h":1.51},{"s":"A","x":0.62,"y":1.45,"l":1.37,"h":1.53},{"s":"A","x":0.7,"y":1.43,"l":1.35,"h":1.51},{"s":"A","x":0.78,"y":1.41,"l":1.33,"h":1.49},{"s":"A","x":0.86,"y":1.43,"l":1.35,"h":1.51},{"s":"A","x":0.93,"y":1.39,"l":1.31,"h":1.47},{"s":"A","x":1,"y":1.39,"l":1.31,"h":1.47},
{"s":"B","x":0.04,"y":2.35,"l":2.2,"h":2.6},{"s":"B","x":0.07,"y":2.1,"l":1.95,"h":2.35},{"s":"B","x":0.1,"y":1.97,"l":1.82,"h":2.22},{"s":"B","x":0.15,"y":1.93,"l":1.78,"h":2.18},{"s":"B","x":0.2,"y":1.95,"l":1.8,"h":2.2},{"s":"B","x":0.27,"y":1.81,"l":1.66,"h":2.06},{"s":"B","x":0.34,"y":1.85,"l":1.7,"h":2.1},{"s":"B","x":0.41,"y":1.76,"l":1.61,"h":2.01},{"s":"B","x":0.48,"y":1.75,"l":1.6,"h":2.0},{"s":"B","x":0.55,"y":1.7,"l":1.55,"h":1.95},{"s":"B","x":0.62,"y":1.68,"l":1.53,"h":1.93},{"s":"B","x":0.7,"y":1.72,"l":1.57,"h":1.97},{"s":"B","x":0.78,"y":1.7,"l":1.55,"h":1.95},{"s":"B","x":0.86,"y":1.68,"l":1.53,"h":1.93},{"s":"B","x":0.93,"y":1.68,"l":1.53,"h":1.93},{"s":"B","x":1,"y":1.64,"l":1.49,"h":1.89},
{"s":"C","x":0.04,"y":2.48,"l":2.33,"h":2.63},{"s":"C","x":0.07,"y":2.31,"l":2.16,"h":2.46},{"s":"C","x":0.1,"y":2.29,"l":2.14,"h":2.44},{"s":"C","x":0.15,"y":2.31,"l":2.16,"h":2.46},{"s":"C","x":0.2,"y":2.29,"l":2.14,"h":2.44},{"s":"C","x":0.27,"y":2.34,"l":2.19,"h":2.49},{"s":"C","x":0.34,"y":2.33,"l":2.18,"h":2.48},{"s":"C","x":0.41,"y":2.39,"l":2.24,"h":2.54},{"s":"C","x":0.48,"y":2.35,"l":2.2,"h":2.5},{"s":"C","x":0.55,"y":2.42,"l":2.27,"h":2.57},{"s":"C","x":0.62,"y":2.44,"l":2.29,"h":2.59},{"s":"C","x":0.7,"y":2.48,"l":2.33,"h":2.63},{"s":"C","x":0.78,"y":2.42,"l":2.27,"h":2.57},{"s":"C","x":0.86,"y":2.39,"l":2.24,"h":2.54},{"s":"C","x":0.93,"y":2.41,"l":2.26,"h":2.56},{"s":"C","x":1,"y":2.39,"l":2.24,"h":2.54},
{"s":"D","x":0.04,"y":2.56,"l":2.36,"h":2.76},{"s":"D","x":0.07,"y":2.42,"l":2.22,"h":2.62},{"s":"D","x":0.1,"y":2.4,"l":2.2,"h":2.6},{"s":"D","x":0.15,"y":2.4,"l":2.2,"h":2.6},{"s":"D","x":0.2,"y":2.35,"l":2.15,"h":2.55},{"s":"D","x":0.27,"y":2.44,"l":2.24,"h":2.64},{"s":"D","x":0.34,"y":2.5,"l":2.3,"h":2.7},{"s":"D","x":0.41,"y":2.59,"l":2.39,"h":2.79},{"s":"D","x":0.48,"y":2.61,"l":2.41,"h":2.81},{"s":"D","x":0.55,"y":2.65,"l":2.45,"h":2.85},{"s":"D","x":0.62,"y":2.63,"l":2.43,"h":2.83},{"s":"D","x":0.7,"y":2.69,"l":2.49,"h":2.89},{"s":"D","x":0.78,"y":2.69,"l":2.49,"h":2.89},{"s":"D","x":0.86,"y":2.62,"l":2.42,"h":2.82},{"s":"D","x":0.93,"y":2.69,"l":2.49,"h":2.89},{"s":"D","x":1,"y":2.73,"l":2.53,"h":2.93},
{"s":"E","x":0.04,"y":2.86,"l":2.71,"h":3.01},{"s":"E","x":0.07,"y":2.79,"l":2.64,"h":2.94},{"s":"E","x":0.1,"y":2.82,"l":2.67,"h":2.97},{"s":"E","x":0.15,"y":2.82,"l":2.67,"h":2.97},{"s":"E","x":0.2,"y":2.87,"l":2.72,"h":3.02},{"s":"E","x":0.27,"y":3.13,"l":2.98,"h":3.28},{"s":"E","x":0.34,"y":3.15,"l":3.0,"h":3.3},{"s":"E","x":0.41,"y":3.11,"l":2.96,"h":3.26},{"s":"E","x":0.48,"y":3.21,"l":3.06,"h":3.36},{"s":"E","x":0.55,"y":3.18,"l":3.03,"h":3.33},{"s":"E","x":0.62,"y":3.15,"l":3.0,"h":3.3},{"s":"E","x":0.7,"y":3.11,"l":2.96,"h":3.26},{"s":"E","x":0.78,"y":3.11,"l":2.96,"h":3.26},{"s":"E","x":0.86,"y":3.19,"l":3.04,"h":3.34},{"s":"E","x":0.93,"y":3.09,"l":2.94,"h":3.24},{"s":"E","x":1,"y":3.19,"l":3.04,"h":3.34}
],
"p8": [
{"s":"A","x":0.04,"y":2.37,"l":2.22,"h":2.52},{"s":"A","x":0.07,"y":2.02,"l":1.87,"h":2.17},{"s":"A","x":0.1,"y":1.91,"l":1.76,"h":2.06},{"s":"A","x":0.15,"y":1.83,"l":1.68,"h":1.98},{"s":"A","x":0.2,"y":1.75,"l":1.6,"h":1.9},{"s":"A","x":0.27,"y":1.66,"l":1.51,"h":1.81},{"s":"A","x":0.34,"y":1.66,"l":1.51,"h":1.81},{"s":"A","x":0.41,"y":1.62,"l":1.47,"h":1.77},{"s":"A","x":0.48,"y":1.58,"l":1.43,"h":1.73},{"s":"A","x":0.55,"y":1.56,"l":1.41,"h":1.71},{"s":"A","x":0.62,"y":1.54,"l":1.39,"h":1.69},{"s":"A","x":0.7,"y":1.52,"l":1.37,"h":1.67},{"s":"A","x":0.78,"y":1.51,"l":1.36,"h":1.66},{"s":"A","x":0.86,"y":1.51,"l":1.36,"h":1.66},{"s":"A","x":0.93,"y":1.48,"l":1.33,"h":1.63},{"s":"A","x":1,"y":1.51,"l":1.36,"h":1.66},
{"s":"B","x":0.04,"y":2.48,"l":2.36,"h":2.7},{"s":"B","x":0.07,"y":2.29,"l":2.17,"h":2.9},{"s":"B","x":0.1,"y":2.14,"l":2.02,"h":3.2},{"s":"B","x":0.15,"y":2.02,"l":1.9,"h":2.6},{"s":"B","x":0.2,"y":1.98,"l":1.86,"h":2.3},{"s":"B","x":0.27,"y":1.95,"l":1.83,"h":2.2},{"s":"B","x":0.34,"y":1.91,"l":1.79,"h":2.15},{"s":"B","x":0.41,"y":1.92,"l":1.8,"h":2.15},{"s":"B","x":0.48,"y":1.87,"l":1.75,"h":2.1},{"s":"B","x":0.55,"y":1.85,"l":1.73,"h":2.1},{"s":"B","x":0.62,"y":1.85,"l":1.73,"h":2.1},{"s":"B","x":0.7,"y":1.83,"l":1.71,"h":2.1},{"s":"B","x":0.78,"y":1.87,"l":1.75,"h":2.2},{"s":"B","x":0.86,"y":1.82,"l":1.7,"h":2.05},{"s":"B","x":0.93,"y":1.82,"l":1.7,"h":2.05},{"s":"B","x":1,"y":1.82,"l":1.7,"h":2.05},
{"s":"C","x":0.04,"y":2.91,"l":2.81,"h":3.01},{"s":"C","x":0.07,"y":2.87,"l":2.77,"h":2.97},{"s":"C","x":0.1,"y":2.91,"l":2.81,"h":3.01},{"s":"C","x":0.15,"y":2.95,"l":2.85,"h":3.05},{"s":"C","x":0.2,"y":2.92,"l":2.82,"h":3.02},{"s":"C","x":0.27,"y":2.97,"l":2.87,"h":3.07},{"s":"C","x":0.34,"y":2.95,"l":2.85,"h":3.05},{"s":"C","x":0.41,"y":2.98,"l":2.88,"h":3.08},{"s":"C","x":0.48,"y":2.95,"l":2.85,"h":3.05},{"s":"C","x":0.55,"y":3.0,"l":2.9,"h":3.1},{"s":"C","x":0.62,"y":2.98,"l":2.88,"h":3.08},{"s":"C","x":0.7,"y":3.0,"l":2.9,"h":3.1},{"s":"C","x":0.78,"y":2.97,"l":2.87,"h":3.07},{"s":"C","x":0.86,"y":3.0,"l":2.9,"h":3.1},{"s":"C","x":0.93,"y":2.95,"l":2.85,"h":3.05},{"s":"C","x":1,"y":2.91,"l":2.81,"h":3.01},
{"s":"D","x":0.04,"y":2.52,"l":2.4,"h":2.64},{"s":"D","x":0.07,"y":2.38,"l":2.26,"h":2.5},{"s":"D","x":0.1,"y":2.33,"l":2.21,"h":2.45},{"s":"D","x":0.15,"y":2.37,"l":2.25,"h":2.49},{"s":"D","x":0.2,"y":2.52,"l":2.4,"h":2.64},{"s":"D","x":0.27,"y":2.64,"l":2.52,"h":2.76},{"s":"D","x":0.34,"y":2.69,"l":2.57,"h":2.81},{"s":"D","x":0.41,"y":2.68,"l":2.56,"h":2.8},{"s":"D","x":0.48,"y":2.72,"l":2.6,"h":2.84},{"s":"D","x":0.55,"y":2.69,"l":2.57,"h":2.81},{"s":"D","x":0.62,"y":2.74,"l":2.62,"h":2.86},{"s":"D","x":0.7,"y":2.69,"l":2.57,"h":2.81},{"s":"D","x":0.78,"y":2.75,"l":2.63,"h":2.87},{"s":"D","x":0.86,"y":2.74,"l":2.62,"h":2.86},{"s":"D","x":0.93,"y":2.79,"l":2.67,"h":2.91},{"s":"D","x":1,"y":2.72,"l":2.6,"h":2.84},
{"s":"E","x":0.04,"y":2.98,"l":2.88,"h":3.08},{"s":"E","x":0.07,"y":2.91,"l":2.81,"h":3.01},{"s":"E","x":0.1,"y":2.92,"l":2.82,"h":3.02},{"s":"E","x":0.15,"y":2.92,"l":2.82,"h":3.02},{"s":"E","x":0.2,"y":2.95,"l":2.85,"h":3.05},{"s":"E","x":0.27,"y":2.95,"l":2.85,"h":3.05},{"s":"E","x":0.34,"y":2.98,"l":2.88,"h":3.08},{"s":"E","x":0.41,"y":2.97,"l":2.87,"h":3.07},{"s":"E","x":0.48,"y":2.95,"l":2.85,"h":3.05},{"s":"E","x":0.55,"y":2.92,"l":2.82,"h":3.02},{"s":"E","x":0.62,"y":2.97,"l":2.87,"h":3.07},{"s":"E","x":0.7,"y":2.95,"l":2.85,"h":3.05},{"s":"E","x":0.78,"y":2.92,"l":2.82,"h":3.02},{"s":"E","x":0.86,"y":2.95,"l":2.85,"h":3.05},{"s":"E","x":0.93,"y":2.91,"l":2.81,"h":3.01},{"s":"E","x":1,"y":2.92,"l":2.82,"h":3.02}
],
"p9": [
{"s":"A","x":0.04,"y":2.48,"l":2.38,"h":2.58},{"s":"A","x":0.07,"y":2.31,"l":2.21,"h":2.41},{"s":"A","x":0.1,"y":2.17,"l":2.07,"h":2.27},{"s":"A","x":0.15,"y":1.99,"l":1.89,"h":2.09},{"s":"A","x":0.2,"y":1.83,"l":1.73,"h":1.93},{"s":"A","x":0.27,"y":1.73,"l":1.63,"h":1.83},{"s":"A","x":0.34,"y":1.71,"l":1.61,"h":1.81},{"s":"A","x":0.41,"y":1.66,"l":1.56,"h":1.76},{"s":"A","x":0.48,"y":1.73,"l":1.6,"h":1.86},{"s":"A","x":0.55,"y":1.62,"l":1.52,"h":1.72},{"s":"A","x":0.62,"y":1.6,"l":1.5,"h":1.7},{"s":"A","x":0.66,"y":1.48,"l":1.4,"h":1.58},{"s":"A","x":0.7,"y":1.72,"l":1.38,"h":2.65},{"s":"A","x":0.75,"y":1.84,"l":1.4,"h":2.7},{"s":"A","x":0.78,"y":1.8,"l":1.4,"h":2.65},{"s":"A","x":0.86,"y":1.74,"l":1.38,"h":2.62},{"s":"A","x":0.93,"y":1.72,"l":1.35,"h":2.6},{"s":"A","x":1,"y":1.7,"l":1.33,"h":2.58},
{"s":"B","x":0.04,"y":2.86,"l":2.71,"h":3.01},{"s":"B","x":0.07,"y":2.82,"l":2.67,"h":2.97},{"s":"B","x":0.1,"y":2.75,"l":2.6,"h":2.9},{"s":"B","x":0.15,"y":2.71,"l":2.56,"h":2.86},{"s":"B","x":0.2,"y":2.67,"l":2.52,"h":2.82},{"s":"B","x":0.27,"y":2.6,"l":2.45,"h":2.75},{"s":"B","x":0.34,"y":2.68,"l":2.53,"h":2.83},{"s":"B","x":0.41,"y":2.62,"l":2.47,"h":2.77},{"s":"B","x":0.48,"y":2.66,"l":2.51,"h":2.81},{"s":"B","x":0.55,"y":2.58,"l":2.43,"h":2.73},{"s":"B","x":0.62,"y":2.62,"l":2.47,"h":2.77},{"s":"B","x":0.7,"y":2.76,"l":2.55,"h":3.45},{"s":"B","x":0.78,"y":2.66,"l":2.51,"h":2.81},{"s":"B","x":0.86,"y":2.6,"l":2.45,"h":2.75},{"s":"B","x":0.93,"y":2.57,"l":2.42,"h":2.72},{"s":"B","x":1,"y":2.6,"l":2.45,"h":2.75},
{"s":"C","x":0.04,"y":2.84,"l":2.72,"h":2.96},{"s":"C","x":0.07,"y":2.78,"l":2.66,"h":2.9},{"s":"C","x":0.1,"y":2.77,"l":2.65,"h":2.89},{"s":"C","x":0.15,"y":2.78,"l":2.66,"h":2.9},{"s":"C","x":0.2,"y":2.8,"l":2.68,"h":2.92},{"s":"C","x":0.27,"y":2.75,"l":2.63,"h":2.87},{"s":"C","x":0.34,"y":2.78,"l":2.66,"h":2.9},{"s":"C","x":0.41,"y":2.82,"l":2.7,"h":2.94},{"s":"C","x":0.48,"y":2.8,"l":2.68,"h":2.92},{"s":"C","x":0.55,"y":2.84,"l":2.72,"h":2.96},{"s":"C","x":0.62,"y":2.82,"l":2.7,"h":2.94},{"s":"C","x":0.7,"y":2.86,"l":2.74,"h":2.98},{"s":"C","x":0.78,"y":2.87,"l":2.75,"h":2.99},{"s":"C","x":0.86,"y":2.89,"l":2.77,"h":3.01},{"s":"C","x":0.93,"y":2.91,"l":2.79,"h":3.03},{"s":"C","x":1,"y":2.89,"l":2.77,"h":3.01},
{"s":"D","x":0.04,"y":2.87,"l":2.67,"h":2.99},{"s":"D","x":0.07,"y":2.8,"l":2.6,"h":2.92},{"s":"D","x":0.1,"y":2.75,"l":2.55,"h":2.87},{"s":"D","x":0.15,"y":2.72,"l":2.52,"h":2.84},{"s":"D","x":0.2,"y":2.78,"l":2.58,"h":2.9},{"s":"D","x":0.27,"y":2.82,"l":2.62,"h":2.94},{"s":"D","x":0.34,"y":2.84,"l":2.64,"h":2.96},{"s":"D","x":0.41,"y":2.86,"l":2.66,"h":2.98},{"s":"D","x":0.48,"y":2.87,"l":2.67,"h":2.99},{"s":"D","x":0.55,"y":2.89,"l":2.69,"h":3.01},{"s":"D","x":0.62,"y":2.91,"l":2.71,"h":3.03},{"s":"D","x":0.7,"y":2.93,"l":2.73,"h":3.05},{"s":"D","x":0.78,"y":2.94,"l":2.74,"h":3.06},{"s":"D","x":0.86,"y":2.96,"l":2.76,"h":3.08},{"s":"D","x":0.93,"y":2.94,"l":2.74,"h":3.06},{"s":"D","x":1,"y":2.94,"l":2.74,"h":3.06},
{"s":"E","x":0.04,"y":3.0,"l":2.9,"h":3.1},{"s":"E","x":0.07,"y":2.97,"l":2.87,"h":3.07},{"s":"E","x":0.1,"y":2.96,"l":2.86,"h":3.06},{"s":"E","x":0.15,"y":2.98,"l":2.88,"h":3.08},{"s":"E","x":0.2,"y":3.0,"l":2.9,"h":3.1},{"s":"E","x":0.27,"y":3.02,"l":2.92,"h":3.12},{"s":"E","x":0.34,"y":3.04,"l":2.94,"h":3.14},{"s":"E","x":0.41,"y":3.03,"l":2.93,"h":3.13},{"s":"E","x":0.48,"y":3.05,"l":2.95,"h":3.15},{"s":"E","x":0.55,"y":3.02,"l":2.92,"h":3.12},{"s":"E","x":0.62,"y":3.04,"l":2.94,"h":3.14},{"s":"E","x":0.7,"y":3.03,"l":2.93,"h":3.13},{"s":"E","x":0.78,"y":3.01,"l":2.91,"h":3.11},{"s":"E","x":0.86,"y":2.99,"l":2.89,"h":3.09},{"s":"E","x":0.93,"y":3.01,"l":2.91,"h":3.11},{"s":"E","x":1,"y":3.0,"l":2.9,"h":3.1}
],
"p10": [
{"s":"A","x":0.04,"y":2.11,"l":2.01,"h":2.21},{"s":"A","x":0.07,"y":1.96,"l":1.86,"h":2.06},{"s":"A","x":0.1,"y":1.89,"l":1.79,"h":1.99},{"s":"A","x":0.15,"y":1.82,"l":1.72,"h":1.92},{"s":"A","x":0.2,"y":1.76,"l":1.66,"h":1.86},{"s":"A","x":0.27,"y":1.73,"l":1.63,"h":1.98},{"s":"A","x":0.34,"y":1.73,"l":1.63,"h":1.98},{"s":"A","x":0.41,"y":1.71,"l":1.61,"h":1.81},{"s":"A","x":0.48,"y":1.69,"l":1.59,"h":1.79},{"s":"A","x":0.55,"y":1.69,"l":1.59,"h":1.79},{"s":"A","x":0.62,"y":1.69,"l":1.59,"h":1.79},{"s":"A","x":0.7,"y":1.66,"l":1.56,"h":1.76},{"s":"A","x":0.78,"y":1.64,"l":1.54,"h":1.74},{"s":"A","x":0.86,"y":1.66,"l":1.56,"h":1.76},{"s":"A","x":0.93,"y":1.65,"l":1.55,"h":1.75},{"s":"A","x":1,"y":1.6,"l":1.5,"h":1.7},
{"s":"B","x":0.04,"y":2.83,"l":2.68,"h":2.98},{"s":"B","x":0.07,"y":2.8,"l":2.65,"h":2.95},{"s":"B","x":0.1,"y":2.69,"l":2.54,"h":2.84},{"s":"B","x":0.15,"y":2.62,"l":2.47,"h":2.77},{"s":"B","x":0.2,"y":2.56,"l":2.41,"h":2.71},{"s":"B","x":0.27,"y":2.51,"l":2.36,"h":2.66},{"s":"B","x":0.34,"y":2.53,"l":2.38,"h":2.68},{"s":"B","x":0.37,"y":2.62,"l":2.47,"h":2.77},{"s":"B","x":0.4,"y":2.9,"l":2.75,"h":3.05},{"s":"B","x":0.48,"y":2.87,"l":2.72,"h":3.02},{"s":"B","x":0.55,"y":2.86,"l":2.71,"h":3.01},{"s":"B","x":0.62,"y":2.89,"l":2.74,"h":3.04},{"s":"B","x":0.7,"y":2.84,"l":2.69,"h":2.99},{"s":"B","x":0.78,"y":2.81,"l":2.66,"h":2.96},{"s":"B","x":0.84,"y":2.8,"l":2.65,"h":2.95},{"s":"B","x":0.88,"y":3.1,"l":2.95,"h":3.25},{"s":"B","x":0.93,"y":3.16,"l":3.01,"h":3.31},{"s":"B","x":1,"y":3.18,"l":3.03,"h":3.33},
{"s":"C","x":0.04,"y":2.98,"l":2.78,"h":3.08},{"s":"C","x":0.07,"y":2.87,"l":2.47,"h":2.97},{"s":"C","x":0.1,"y":2.83,"l":2.43,"h":2.93},{"s":"C","x":0.15,"y":2.91,"l":2.51,"h":3.01},{"s":"C","x":0.2,"y":2.83,"l":2.43,"h":2.93},{"s":"C","x":0.27,"y":2.8,"l":2.6,"h":2.9},{"s":"C","x":0.34,"y":2.87,"l":2.67,"h":2.97},{"s":"C","x":0.41,"y":2.91,"l":2.71,"h":3.01},{"s":"C","x":0.48,"y":2.92,"l":2.72,"h":3.02},{"s":"C","x":0.55,"y":2.94,"l":2.74,"h":3.04},{"s":"C","x":0.62,"y":2.98,"l":2.78,"h":3.08},{"s":"C","x":0.7,"y":2.98,"l":2.78,"h":3.08},{"s":"C","x":0.78,"y":3.01,"l":2.81,"h":3.11},{"s":"C","x":0.86,"y":3.05,"l":2.85,"h":3.15},{"s":"C","x":0.93,"y":3.09,"l":2.89,"h":3.19},{"s":"C","x":1,"y":3.09,"l":2.89,"h":3.19},
{"s":"D","x":0.04,"y":3.21,"l":3.14,"h":3.28},{"s":"D","x":0.07,"y":3.19,"l":3.12,"h":3.26},{"s":"D","x":0.1,"y":3.18,"l":3.11,"h":3.25},{"s":"D","x":0.15,"y":3.19,"l":3.12,"h":3.26},{"s":"D","x":0.2,"y":3.2,"l":3.13,"h":3.27},{"s":"D","x":0.27,"y":3.19,"l":3.12,"h":3.26},{"s":"D","x":0.34,"y":3.18,"l":3.11,"h":3.25},{"s":"D","x":0.41,"y":3.2,"l":3.13,"h":3.27},{"s":"D","x":0.48,"y":3.21,"l":3.14,"h":3.28},{"s":"D","x":0.55,"y":3.22,"l":3.15,"h":3.29},{"s":"D","x":0.62,"y":3.21,"l":3.14,"h":3.28},{"s":"D","x":0.7,"y":3.23,"l":3.16,"h":3.3},{"s":"D","x":0.78,"y":3.24,"l":3.17,"h":3.31},{"s":"D","x":0.86,"y":3.22,"l":3.15,"h":3.29},{"s":"D","x":0.93,"y":3.2,"l":3.13,"h":3.27},{"s":"D","x":1,"y":3.21,"l":3.14,"h":3.28},
{"s":"E","x":0.04,"y":3.19,"l":3.13,"h":3.25},{"s":"E","x":0.07,"y":3.16,"l":3.1,"h":3.22},{"s":"E","x":0.1,"y":3.14,"l":3.08,"h":3.2},{"s":"E","x":0.15,"y":3.16,"l":3.1,"h":3.22},{"s":"E","x":0.2,"y":3.18,"l":3.12,"h":3.24},{"s":"E","x":0.27,"y":3.15,"l":3.09,"h":3.21},{"s":"E","x":0.34,"y":3.17,"l":3.11,"h":3.23},{"s":"E","x":0.41,"y":3.18,"l":3.12,"h":3.24},{"s":"E","x":0.48,"y":3.16,"l":3.1,"h":3.22},{"s":"E","x":0.55,"y":3.17,"l":3.11,"h":3.23},{"s":"E","x":0.62,"y":3.17,"l":3.11,"h":3.23},{"s":"E","x":0.7,"y":3.15,"l":3.09,"h":3.21},{"s":"E","x":0.78,"y":3.18,"l":3.12,"h":3.24},{"s":"E","x":0.86,"y":3.19,"l":3.13,"h":3.25},{"s":"E","x":0.93,"y":3.2,"l":3.14,"h":3.26},{"s":"E","x":1,"y":3.19,"l":3.13,"h":3.25}
],
"p11": [
{"s":"A","x":0.04,"y":2.92,"l":2.72,"h":3.12},{"s":"A","x":0.07,"y":2.48,"l":2.28,"h":2.68},{"s":"A","x":0.1,"y":2.2,"l":2.0,"h":2.4},{"s":"A","x":0.15,"y":2.46,"l":2.26,"h":2.66},{"s":"A","x":0.2,"y":2.54,"l":2.34,"h":2.74},{"s":"A","x":0.27,"y":2.61,"l":2.41,"h":2.81},{"s":"A","x":0.34,"y":2.68,"l":2.48,"h":2.88},{"s":"A","x":0.41,"y":2.58,"l":2.38,"h":2.78},{"s":"A","x":0.48,"y":2.82,"l":2.62,"h":3.02},{"s":"A","x":0.55,"y":2.92,"l":2.72,"h":3.12},{"s":"A","x":0.62,"y":2.87,"l":2.67,"h":3.07},{"s":"A","x":0.7,"y":2.92,"l":2.72,"h":3.12},{"s":"A","x":0.78,"y":2.85,"l":2.65,"h":3.05},{"s":"A","x":0.86,"y":2.85,"l":2.65,"h":3.05},{"s":"A","x":0.93,"y":2.87,"l":2.67,"h":3.07},{"s":"A","x":1,"y":2.89,"l":2.69,"h":3.09},
{"s":"B","x":0.04,"y":2.82,"l":2.62,"h":3.02},{"s":"B","x":0.07,"y":2.51,"l":2.31,"h":2.71},{"s":"B","x":0.1,"y":2.61,"l":2.41,"h":2.81},{"s":"B","x":0.15,"y":2.48,"l":2.28,"h":2.68},{"s":"B","x":0.2,"y":2.54,"l":2.34,"h":2.74},{"s":"B","x":0.27,"y":2.58,"l":2.38,"h":2.78},{"s":"B","x":0.34,"y":2.54,"l":2.34,"h":2.74},{"s":"B","x":0.41,"y":2.41,"l":2.21,"h":2.61},{"s":"B","x":0.48,"y":2.54,"l":2.34,"h":2.74},{"s":"B","x":0.55,"y":2.46,"l":2.26,"h":2.66},{"s":"B","x":0.62,"y":2.38,"l":2.18,"h":2.58},{"s":"B","x":0.7,"y":2.44,"l":2.24,"h":2.64},{"s":"B","x":0.78,"y":2.31,"l":2.11,"h":2.51},{"s":"B","x":0.86,"y":2.34,"l":2.14,"h":2.54},{"s":"B","x":0.93,"y":2.26,"l":2.06,"h":2.46},{"s":"B","x":1,"y":2.28,"l":2.08,"h":2.48},
{"s":"C","x":0.04,"y":2.77,"l":2.62,"h":2.92},{"s":"C","x":0.07,"y":2.46,"l":2.31,"h":2.61},{"s":"C","x":0.1,"y":2.36,"l":2.21,"h":2.51},{"s":"C","x":0.15,"y":2.44,"l":2.29,"h":2.59},{"s":"C","x":0.2,"y":2.48,"l":2.33,"h":2.63},{"s":"C","x":0.27,"y":2.51,"l":2.36,"h":2.66},{"s":"C","x":0.34,"y":2.41,"l":2.26,"h":2.56},{"s":"C","x":0.41,"y":2.46,"l":2.31,"h":2.61},{"s":"C","x":0.48,"y":2.31,"l":2.16,"h":2.46},{"s":"C","x":0.55,"y":2.36,"l":2.21,"h":2.51},{"s":"C","x":0.62,"y":2.41,"l":2.26,"h":2.56},{"s":"C","x":0.7,"y":2.34,"l":2.19,"h":2.49},{"s":"C","x":0.78,"y":2.38,"l":2.23,"h":2.53},{"s":"C","x":0.86,"y":2.41,"l":2.26,"h":2.56},{"s":"C","x":0.93,"y":2.44,"l":2.29,"h":2.59},{"s":"C","x":1,"y":2.46,"l":2.31,"h":2.61},
{"s":"D","x":0.04,"y":3.22,"l":3.02,"h":3.42},{"s":"D","x":0.07,"y":3.17,"l":2.97,"h":3.37},{"s":"D","x":0.1,"y":3.12,"l":2.92,"h":3.32},{"s":"D","x":0.15,"y":3.02,"l":2.82,"h":3.22},{"s":"D","x":0.2,"y":2.92,"l":2.72,"h":3.12},{"s":"D","x":0.27,"y":2.97,"l":2.77,"h":3.17},{"s":"D","x":0.34,"y":3.07,"l":2.87,"h":3.27},{"s":"D","x":0.41,"y":3.02,"l":2.82,"h":3.22},{"s":"D","x":0.48,"y":2.92,"l":2.72,"h":3.12},{"s":"D","x":0.55,"y":2.97,"l":2.77,"h":3.17},{"s":"D","x":0.62,"y":2.95,"l":2.75,"h":3.15},{"s":"D","x":0.7,"y":2.92,"l":2.72,"h":3.12},{"s":"D","x":0.78,"y":3.02,"l":2.82,"h":3.22},{"s":"D","x":0.86,"y":2.92,"l":2.72,"h":3.12},{"s":"D","x":0.93,"y":2.89,"l":2.69,"h":3.09},{"s":"D","x":1,"y":2.92,"l":2.72,"h":3.12},
{"s":"E","x":0.04,"y":3.73,"l":3.43,"h":4.03},{"s":"E","x":0.07,"y":3.68,"l":3.38,"h":3.98},{"s":"E","x":0.1,"y":3.58,"l":3.28,"h":3.88},{"s":"E","x":0.15,"y":3.6,"l":3.3,"h":3.9},{"s":"E","x":0.2,"y":3.64,"l":3.34,"h":3.94},{"s":"E","x":0.27,"y":3.75,"l":3.45,"h":4.05},{"s":"E","x":0.34,"y":3.92,"l":3.62,"h":4.22},{"s":"E","x":0.41,"y":4.22,"l":3.92,"h":4.52},{"s":"E","x":0.48,"y":3.96,"l":3.66,"h":4.26},{"s":"E","x":0.55,"y":4.05,"l":3.75,"h":4.35},{"s":"E","x":0.62,"y":4.02,"l":3.72,"h":4.32},{"s":"E","x":0.7,"y":4.22,"l":3.92,"h":4.52},{"s":"E","x":0.78,"y":3.98,"l":3.68,"h":4.28},{"s":"E","x":0.86,"y":3.94,"l":3.64,"h":4.24},{"s":"E","x":0.93,"y":3.9,"l":3.6,"h":4.2},{"s":"E","x":1,"y":4.04,"l":3.74,"h":4.34}
],
"p12": [
{"s":"A","x":0.04,"y":3.14,"l":2.79,"h":3.49},{"s":"A","x":0.07,"y":2.86,"l":2.51,"h":3.21},{"s":"A","x":0.1,"y":2.73,"l":2.38,"h":3.08},{"s":"A","x":0.15,"y":2.64,"l":2.29,"h":2.99},{"s":"A","x":0.2,"y":2.77,"l":2.42,"h":3.12},{"s":"A","x":0.27,"y":2.64,"l":2.29,"h":2.99},{"s":"A","x":0.34,"y":2.77,"l":2.42,"h":3.12},{"s":"A","x":0.41,"y":2.73,"l":2.38,"h":3.08},{"s":"A","x":0.48,"y":2.77,"l":2.42,"h":3.12},{"s":"A","x":0.55,"y":2.82,"l":2.47,"h":3.17},{"s":"A","x":0.62,"y":2.86,"l":2.51,"h":3.21},{"s":"A","x":0.7,"y":2.91,"l":2.56,"h":3.26},{"s":"A","x":0.78,"y":2.84,"l":2.49,"h":3.19},{"s":"A","x":0.86,"y":2.89,"l":2.54,"h":3.24},{"s":"A","x":0.93,"y":2.8,"l":2.45,"h":3.15},{"s":"A","x":1,"y":2.75,"l":2.4,"h":3.1},
{"s":"B","x":0.04,"y":3.63,"l":3.28,"h":3.75},{"s":"B","x":0.07,"y":3.54,"l":3.19,"h":3.66},{"s":"B","x":0.1,"y":3.5,"l":3.15,"h":3.62},{"s":"B","x":0.15,"y":3.54,"l":3.19,"h":3.66},{"s":"B","x":0.2,"y":3.52,"l":3.17,"h":3.64},{"s":"B","x":0.27,"y":3.52,"l":3.17,"h":3.64},{"s":"B","x":0.34,"y":3.65,"l":3.3,"h":3.77},{"s":"B","x":0.41,"y":3.54,"l":3.19,"h":3.66},{"s":"B","x":0.48,"y":3.47,"l":3.12,"h":3.59},{"s":"B","x":0.55,"y":3.59,"l":3.24,"h":3.71},{"s":"B","x":0.62,"y":3.63,"l":3.28,"h":3.75},{"s":"B","x":0.7,"y":3.61,"l":3.26,"h":3.73},{"s":"B","x":0.78,"y":3.65,"l":3.3,"h":3.77},{"s":"B","x":0.86,"y":3.61,"l":3.26,"h":3.73},{"s":"B","x":0.93,"y":3.59,"l":3.24,"h":3.71},{"s":"B","x":1,"y":3.61,"l":3.26,"h":3.73},
{"s":"C","x":0.04,"y":3.68,"l":3.56,"h":3.8},{"s":"C","x":0.07,"y":3.62,"l":3.5,"h":3.74},{"s":"C","x":0.1,"y":3.6,"l":3.48,"h":3.72},{"s":"C","x":0.15,"y":3.62,"l":3.5,"h":3.74},{"s":"C","x":0.2,"y":3.65,"l":3.53,"h":3.77},{"s":"C","x":0.27,"y":3.62,"l":3.5,"h":3.74},{"s":"C","x":0.34,"y":3.6,"l":3.48,"h":3.72},{"s":"C","x":0.41,"y":3.64,"l":3.52,"h":3.76},{"s":"C","x":0.48,"y":3.66,"l":3.54,"h":3.78},{"s":"C","x":0.55,"y":3.68,"l":3.56,"h":3.8},{"s":"C","x":0.62,"y":3.66,"l":3.54,"h":3.78},{"s":"C","x":0.7,"y":3.65,"l":3.53,"h":3.77},{"s":"C","x":0.78,"y":3.67,"l":3.55,"h":3.79},{"s":"C","x":0.86,"y":3.68,"l":3.56,"h":3.8},{"s":"C","x":0.93,"y":3.66,"l":3.54,"h":3.78},{"s":"C","x":1,"y":3.68,"l":3.56,"h":3.8},
{"s":"D","x":0.04,"y":3.74,"l":3.29,"h":3.89},{"s":"D","x":0.07,"y":3.73,"l":3.28,"h":3.88},{"s":"D","x":0.1,"y":3.72,"l":3.27,"h":3.87},{"s":"D","x":0.15,"y":3.76,"l":3.31,"h":3.91},{"s":"D","x":0.2,"y":3.8,"l":3.35,"h":3.95},{"s":"D","x":0.27,"y":3.77,"l":3.32,"h":3.92},{"s":"D","x":0.34,"y":3.82,"l":3.37,"h":3.97},{"s":"D","x":0.41,"y":3.78,"l":3.33,"h":3.93},{"s":"D","x":0.48,"y":3.79,"l":3.34,"h":3.94},{"s":"D","x":0.55,"y":3.8,"l":3.35,"h":3.95},{"s":"D","x":0.62,"y":3.77,"l":3.32,"h":3.92},{"s":"D","x":0.7,"y":3.78,"l":3.33,"h":3.93},{"s":"D","x":0.78,"y":3.8,"l":3.35,"h":3.95},{"s":"D","x":0.86,"y":3.76,"l":3.31,"h":3.91},{"s":"D","x":0.93,"y":3.77,"l":3.32,"h":3.92},{"s":"D","x":1,"y":3.75,"l":3.3,"h":3.9},
{"s":"E","x":0.04,"y":3.86,"l":3.74,"h":3.98},{"s":"E","x":0.07,"y":3.88,"l":3.76,"h":4.0},{"s":"E","x":0.1,"y":3.9,"l":3.78,"h":4.02},{"s":"E","x":0.15,"y":3.95,"l":3.83,"h":4.07},{"s":"E","x":0.2,"y":4.04,"l":3.92,"h":4.16},{"s":"E","x":0.27,"y":4.17,"l":4.05,"h":4.29},{"s":"E","x":0.34,"y":4.22,"l":4.1,"h":4.34},{"s":"E","x":0.41,"y":4.08,"l":3.96,"h":4.2},{"s":"E","x":0.48,"y":4.13,"l":4.01,"h":4.25},{"s":"E","x":0.55,"y":4.06,"l":3.94,"h":4.18},{"s":"E","x":0.62,"y":4.04,"l":3.92,"h":4.16},{"s":"E","x":0.7,"y":3.99,"l":3.87,"h":4.11},{"s":"E","x":0.78,"y":4.04,"l":3.92,"h":4.16},{"s":"E","x":0.86,"y":4.08,"l":3.96,"h":4.2},{"s":"E","x":0.93,"y":4.13,"l":4.01,"h":4.25},{"s":"E","x":1,"y":3.95,"l":3.83,"h":4.07}
]
},
"vconcat": [
{"hconcat": [
{"width":5,"height":106,"view":{"fill":null,"stroke":null},"data":{"values":[{}]},"mark":{"type":"point","opacity":0},"encoding":{}},
{"hconcat": [
{"width":155,"height":106,"title":"Push 𝘯 = 1","data":{"name":"p1"},"resolve":{"axis":{"y":"independent"}},"layer":[
 {"mark":{"type":"area","opacity":0.25,"clip":true},"encoding":{"x":{"field":"x","type":"quantitative","scale":{"domain":[0,1],"nice":false},"axis":{"values":[0,0.5,1],"format":".1f","title":"Env Steps"}},"y":{"field":"l","type":"quantitative","scale":{"domain":[0.33,1.055],"nice":false,"zero":false},"axis":{"orient":"left","values":[0.4,0.8],"format":".1f","title":"Goal Distance","titlePadding":11}},"y2":{"field":"h"},"fill":{"field":"s","type":"nominal","scale":{"domain":["A","B","C","D","E"]},"legend":null}}},
 {"mark":{"type":"line","strokeWidth":2,"clip":true},"encoding":{"x":{"field":"x","type":"quantitative"},"y":{"field":"y","type":"quantitative","axis":{"orient":"left","values":[0.6,1],"format":".1f","title":null}},"color":{"field":"s","type":"nominal","legend":{"orient":"none","legendX":126,"legendY":-80,"direction":"horizontal","columns":5,"title":null,"symbolType":"M-2,0H2","symbolSize":400,"symbolOffset":1,"symbolStrokeWidth":2,"symbolOpacity":0.8,"labelFontSize":19,"labelColor":"#222222","labelOffset":33,"columnPadding":27,"padding":6,"fillColor":"#E8E8E8","cornerRadius":4,"labelExpr":"datum.label == 'A' ? 'WSC (Ours)' : datum.label == 'B' ? 'SkewFit' : datum.label == 'C' ? 'RIG' : datum.label == 'D' ? 'HER' : 'SkewFit+pred'"}}}},
 {"data":{"values":[{}]},"mark":{"type":"text","align":"left","baseline":"bottom","dy":-3,"fontSize":12,"color":"#333333"},"encoding":{"x":{"datum":0},"y":{"datum":1.055,"axis":null},"text":{"value":"1e−1"}}},
 {"data":{"values":[{}]},"mark":{"type":"text","align":"right","baseline":"top","dy":24,"fontSize":12,"color":"#555555"},"encoding":{"x":{"datum":1},"y":{"datum":0.33,"axis":null},"text":{"value":"1e6"}}}
]},
{"width":155,"height":106,"title":"Push 𝘯 = 2","data":{"name":"p2"},"layer":[
 {"mark":{"type":"area","opacity":0.25,"clip":true},"encoding":{"x":{"field":"x","type":"quantitative","scale":{"domain":[0,1],"nice":false},"axis":{"values":[0,0.5,1],"format":".1f","title":"Env Steps"}},"y":{"field":"l","type":"quantitative","scale":{"domain":[0.71,1.285],"nice":false,"zero":false},"axis":{"values":[0.8,1,1.2],"format":".1f","title":null}},"y2":{"field":"h"},"fill":{"field":"s","type":"nominal","scale":{"domain":["A","B","C","D","E"]},"legend":null}}},
 {"mark":{"type":"line","strokeWidth":2,"clip":true},"encoding":{"x":{"field":"x","type":"quantitative"},"y":{"field":"y","type":"quantitative"},"color":{"field":"s","type":"nominal"}}},
 {"data":{"values":[{}]},"mark":{"type":"text","align":"left","baseline":"bottom","dy":-3,"fontSize":12,"color":"#333333"},"encoding":{"x":{"datum":0},"y":{"datum":1.285},"text":{"value":"1e−1"}}},
 {"data":{"values":[{}]},"mark":{"type":"text","align":"right","baseline":"top","dy":24,"fontSize":12,"color":"#555555"},"encoding":{"x":{"datum":1},"y":{"datum":0.71},"text":{"value":"1e6"}}}
]},
{"width":155,"height":106,"title":"Push 𝘯 = 3","data":{"name":"p3"},"layer":[
 {"mark":{"type":"area","opacity":0.25,"clip":true},"encoding":{"x":{"field":"x","type":"quantitative","scale":{"domain":[0,1],"nice":false},"axis":{"values":[0,0.5,1],"format":".1f","title":"Env Steps"}},"y":{"field":"l","type":"quantitative","scale":{"domain":[0.68,1.37],"nice":false,"zero":false},"axis":{"values":[0.8,1,1.2],"format":".1f","title":null}},"y2":{"field":"h"},"fill":{"field":"s","type":"nominal","scale":{"domain":["A","B","C","D","E"]},"legend":null}}},
 {"mark":{"type":"line","strokeWidth":2,"clip":true},"encoding":{"x":{"field":"x","type":"quantitative"},"y":{"field":"y","type":"quantitative"},"color":{"field":"s","type":"nominal"}}},
 {"data":{"values":[{}]},"mark":{"type":"text","align":"left","baseline":"bottom","dy":-3,"fontSize":12,"color":"#333333"},"encoding":{"x":{"datum":0},"y":{"datum":1.37},"text":{"value":"1e−1"}}},
 {"data":{"values":[{}]},"mark":{"type":"text","align":"right","baseline":"top","dy":24,"fontSize":12,"color":"#555555"},"encoding":{"x":{"datum":1},"y":{"datum":0.68},"text":{"value":"1e6"}}}
]},
{"width":155,"height":106,"title":"PushLights 𝘯 = 1","data":{"name":"p4"},"layer":[
 {"mark":{"type":"area","opacity":0.25,"clip":true},"encoding":{"x":{"field":"x","type":"quantitative","scale":{"domain":[0,1],"nice":false},"axis":{"values":[0,0.5,1],"format":".1f","title":"Env Steps"}},"y":{"field":"l","type":"quantitative","scale":{"domain":[0.4,1.117],"nice":false,"zero":false},"axis":{"values":[0.6,0.8,1],"format":".1f","title":null}},"y2":{"field":"h"},"fill":{"field":"s","type":"nominal","scale":{"domain":["A","B","C","D","E"]},"legend":null}}},
 {"mark":{"type":"line","strokeWidth":2,"clip":true},"encoding":{"x":{"field":"x","type":"quantitative"},"y":{"field":"y","type":"quantitative"},"color":{"field":"s","type":"nominal"}}},
 {"data":{"values":[{}]},"mark":{"type":"text","align":"left","baseline":"bottom","dy":-3,"fontSize":12,"color":"#333333"},"encoding":{"x":{"datum":0},"y":{"datum":1.117},"text":{"value":"1e−1"}}},
 {"data":{"values":[{}]},"mark":{"type":"text","align":"right","baseline":"top","dy":24,"fontSize":12,"color":"#555555"},"encoding":{"x":{"datum":1},"y":{"datum":0.4},"text":{"value":"1e6"}}}
]},
{"width":155,"height":106,"title":"PushLights 𝘯 = 2","data":{"name":"p5"},"resolve":{"axis":{"y":"independent"}},"layer":[
 {"mark":{"type":"area","opacity":0.25,"clip":true},"encoding":{"x":{"field":"x","type":"quantitative","scale":{"domain":[0,1],"nice":false},"axis":{"values":[0,0.5,1],"format":".1f","title":"Env Steps"}},"y":{"field":"l","type":"quantitative","scale":{"domain":[0.6,1.526],"nice":false,"zero":false},"axis":{"orient":"left","values":[0.75,1.25],"format":".2f","title":null}},"y2":{"field":"h"},"fill":{"field":"s","type":"nominal","scale":{"domain":["A","B","C","D","E"]},"legend":null}}},
 {"mark":{"type":"line","strokeWidth":2,"clip":true},"encoding":{"x":{"field":"x","type":"quantitative"},"y":{"field":"y","type":"quantitative","axis":{"orient":"left","values":[1,1.5],"format":".2f","title":null}},"color":{"field":"s","type":"nominal"}}},
 {"data":{"values":[{}]},"mark":{"type":"text","align":"left","baseline":"bottom","dy":-3,"fontSize":12,"color":"#333333"},"encoding":{"x":{"datum":0},"y":{"datum":1.526,"axis":null},"text":{"value":"1e−1"}}},
 {"data":{"values":[{}]},"mark":{"type":"text","align":"right","baseline":"top","dy":24,"fontSize":12,"color":"#555555"},"encoding":{"x":{"datum":1},"y":{"datum":0.6,"axis":null},"text":{"value":"1e6"}}}
]},
{"width":155,"height":106,"title":"PushLights 𝘯 = 3","data":{"name":"p6"},"layer":[
 {"mark":{"type":"area","opacity":0.25,"clip":true},"encoding":{"x":{"field":"x","type":"quantitative","scale":{"domain":[0,1],"nice":false},"axis":{"values":[0,0.5,1],"format":".1f","title":"Env Steps"}},"y":{"field":"l","type":"quantitative","scale":{"domain":[0.85,1.315],"nice":false,"zero":false},"axis":{"values":[1,1.2],"format":".1f","title":null}},"y2":{"field":"h"},"fill":{"field":"s","type":"nominal","scale":{"domain":["A","B","C","D","E"]},"legend":null}}},
 {"mark":{"type":"line","strokeWidth":2,"clip":true},"encoding":{"x":{"field":"x","type":"quantitative"},"y":{"field":"y","type":"quantitative"},"color":{"field":"s","type":"nominal"}}},
 {"data":{"values":[{}]},"mark":{"type":"text","align":"left","baseline":"bottom","dy":-3,"fontSize":12,"color":"#333333"},"encoding":{"x":{"datum":0},"y":{"datum":1.315},"text":{"value":"1e−1"}}},
 {"data":{"values":[{}]},"mark":{"type":"text","align":"right","baseline":"top","dy":24,"fontSize":12,"color":"#555555"},"encoding":{"x":{"datum":1},"y":{"datum":0.85},"text":{"value":"1e6"}}}
]}
], "spacing": 32, "bounds": "flush"}
], "spacing": 20, "bounds": "flush"},
{"hconcat": [
{"width":165,"height":105,"title":"Pickup","data":{"name":"p7"},"layer":[
 {"mark":{"type":"area","opacity":0.25,"clip":true},"encoding":{"x":{"field":"x","type":"quantitative","scale":{"domain":[0,1],"nice":false},"axis":{"values":[0,0.25,0.5,0.75,1],"format":".2f","title":"Env Steps"}},"y":{"field":"l","type":"quantitative","scale":{"domain":[1.1,3.75],"nice":false,"zero":false},"axis":{"values":[2,3],"format":"d","title":"Goal Distance","titlePadding":7}},"y2":{"field":"h"},"fill":{"field":"s","type":"nominal","scale":{"domain":["A","B","C","D","E"]},"legend":null}}},
 {"mark":{"type":"line","strokeWidth":2,"clip":true},"encoding":{"x":{"field":"x","type":"quantitative"},"y":{"field":"y","type":"quantitative"},"color":{"field":"s","type":"nominal"}}},
 {"data":{"values":[{}]},"mark":{"type":"text","align":"left","baseline":"bottom","dy":-3,"fontSize":12,"color":"#333333"},"encoding":{"x":{"datum":0},"y":{"datum":3.75},"text":{"value":"1e−2"}}},
 {"data":{"values":[{}]},"mark":{"type":"text","align":"right","baseline":"top","dy":24,"fontSize":12,"color":"#555555"},"encoding":{"x":{"datum":1},"y":{"datum":1.1},"text":{"value":"1e6"}}}
]},
{"width":165,"height":105,"title":"PickupLights","data":{"name":"p8"},"layer":[
 {"mark":{"type":"area","opacity":0.25,"clip":true},"encoding":{"x":{"field":"x","type":"quantitative","scale":{"domain":[0,1],"nice":false},"axis":{"values":[0,0.25,0.5,0.75,1],"format":".2f","title":"Env Steps"}},"y":{"field":"l","type":"quantitative","scale":{"domain":[1.07,3.49],"nice":false,"zero":false},"axis":{"values":[2,3],"format":"d","title":null}},"y2":{"field":"h"},"fill":{"field":"s","type":"nominal","scale":{"domain":["A","B","C","D","E"]},"legend":null}}},
 {"mark":{"type":"line","strokeWidth":2,"clip":true},"encoding":{"x":{"field":"x","type":"quantitative"},"y":{"field":"y","type":"quantitative"},"color":{"field":"s","type":"nominal"}}},
 {"data":{"values":[{}]},"mark":{"type":"text","align":"left","baseline":"bottom","dy":-3,"fontSize":12,"color":"#333333"},"encoding":{"x":{"datum":0},"y":{"datum":3.49},"text":{"value":"1e−2"}}},
 {"data":{"values":[{}]},"mark":{"type":"text","align":"right","baseline":"top","dy":24,"fontSize":12,"color":"#555555"},"encoding":{"x":{"datum":1},"y":{"datum":1.07},"text":{"value":"1e6"}}}
]},
{"width":165,"height":105,"title":"PickupColors","data":{"name":"p9"},"layer":[
 {"mark":{"type":"area","opacity":0.25,"clip":true},"encoding":{"x":{"field":"x","type":"quantitative","scale":{"domain":[0,1],"nice":false},"axis":{"values":[0,0.25,0.5,0.75,1],"format":".2f","title":"Env Steps"}},"y":{"field":"l","type":"quantitative","scale":{"domain":[1.27,3.55],"nice":false,"zero":false},"axis":{"values":[2,3],"format":"d","title":null}},"y2":{"field":"h"},"fill":{"field":"s","type":"nominal","scale":{"domain":["A","B","C","D","E"]},"legend":null}}},
 {"mark":{"type":"line","strokeWidth":2,"clip":true},"encoding":{"x":{"field":"x","type":"quantitative"},"y":{"field":"y","type":"quantitative"},"color":{"field":"s","type":"nominal"}}},
 {"data":{"values":[{}]},"mark":{"type":"text","align":"left","baseline":"bottom","dy":-3,"fontSize":12,"color":"#333333"},"encoding":{"x":{"datum":0},"y":{"datum":3.55},"text":{"value":"1e−2"}}},
 {"data":{"values":[{}]},"mark":{"type":"text","align":"right","baseline":"top","dy":24,"fontSize":12,"color":"#555555"},"encoding":{"x":{"datum":1},"y":{"datum":1.27},"text":{"value":"1e6"}}}
]},
{"width":165,"height":105,"title":"PickupLightsColors","data":{"name":"p10"},"layer":[
 {"mark":{"type":"area","opacity":0.25,"clip":true},"encoding":{"x":{"field":"x","type":"quantitative","scale":{"domain":[0,1],"nice":false},"axis":{"values":[0,0.25,0.5,0.75,1],"format":".2f","title":"Env Steps"}},"y":{"field":"l","type":"quantitative","scale":{"domain":[1.25,3.53],"nice":false,"zero":false},"axis":{"values":[2,3],"format":"d","title":null}},"y2":{"field":"h"},"fill":{"field":"s","type":"nominal","scale":{"domain":["A","B","C","D","E"]},"legend":null}}},
 {"mark":{"type":"line","strokeWidth":2,"clip":true},"encoding":{"x":{"field":"x","type":"quantitative"},"y":{"field":"y","type":"quantitative"},"color":{"field":"s","type":"nominal"}}},
 {"data":{"values":[{}]},"mark":{"type":"text","align":"left","baseline":"bottom","dy":-3,"fontSize":12,"color":"#333333"},"encoding":{"x":{"datum":0},"y":{"datum":3.53},"text":{"value":"1e−2"}}},
 {"data":{"values":[{}]},"mark":{"type":"text","align":"right","baseline":"top","dy":24,"fontSize":12,"color":"#555555"},"encoding":{"x":{"datum":1},"y":{"datum":1.25},"text":{"value":"1e6"}}}
]},
{"width":165,"height":105,"title":"Door","data":{"name":"p11"},"layer":[
 {"mark":{"type":"area","opacity":0.25,"clip":true},"encoding":{"x":{"field":"x","type":"quantitative","scale":{"domain":[0,1],"nice":false},"axis":{"values":[0,0.25,0.5,0.75,1],"format":".2f","title":"Env Steps"}},"y":{"field":"l","type":"quantitative","scale":{"domain":[1.73,4.95],"nice":false,"zero":false},"axis":{"values":[2,3,4],"format":"d","title":null}},"y2":{"field":"h"},"fill":{"field":"s","type":"nominal","scale":{"domain":["A","B","C","D","E"]},"legend":null}}},
 {"mark":{"type":"line","strokeWidth":2,"clip":true},"encoding":{"x":{"field":"x","type":"quantitative"},"y":{"field":"y","type":"quantitative"},"color":{"field":"s","type":"nominal"}}},
 {"data":{"values":[{}]},"mark":{"type":"text","align":"left","baseline":"bottom","dy":-3,"fontSize":12,"color":"#333333"},"encoding":{"x":{"datum":0},"y":{"datum":4.95},"text":{"value":"1e−1"}}},
 {"data":{"values":[{}]},"mark":{"type":"text","align":"right","baseline":"top","dy":24,"fontSize":12,"color":"#555555"},"encoding":{"x":{"datum":1},"y":{"datum":1.73},"text":{"value":"1e6"}}}
]},
{"width":165,"height":105,"title":"DoorLights","data":{"name":"p12"},"layer":[
 {"mark":{"type":"area","opacity":0.25,"clip":true},"encoding":{"x":{"field":"x","type":"quantitative","scale":{"domain":[0,1],"nice":false},"axis":{"values":[0,0.25,0.5,0.75,1],"format":".2f","title":"Env Steps"}},"y":{"field":"l","type":"quantitative","scale":{"domain":[1.85,4.68],"nice":false,"zero":false},"axis":{"values":[2,3,4],"format":"d","title":null}},"y2":{"field":"h"},"fill":{"field":"s","type":"nominal","scale":{"domain":["A","B","C","D","E"]},"legend":null}}},
 {"mark":{"type":"line","strokeWidth":2,"clip":true},"encoding":{"x":{"field":"x","type":"quantitative"},"y":{"field":"y","type":"quantitative"},"color":{"field":"s","type":"nominal"}}},
 {"data":{"values":[{}]},"mark":{"type":"text","align":"left","baseline":"bottom","dy":-3,"fontSize":12,"color":"#333333"},"encoding":{"x":{"datum":0},"y":{"datum":4.68},"text":{"value":"1e−1"}}},
 {"data":{"values":[{}]},"mark":{"type":"text","align":"right","baseline":"top","dy":24,"fontSize":12,"color":"#555555"},"encoding":{"x":{"datum":1},"y":{"datum":1.85},"text":{"value":"1e6"}}}
]}
], "spacing": 30, "bounds": "flush"}
]
}
